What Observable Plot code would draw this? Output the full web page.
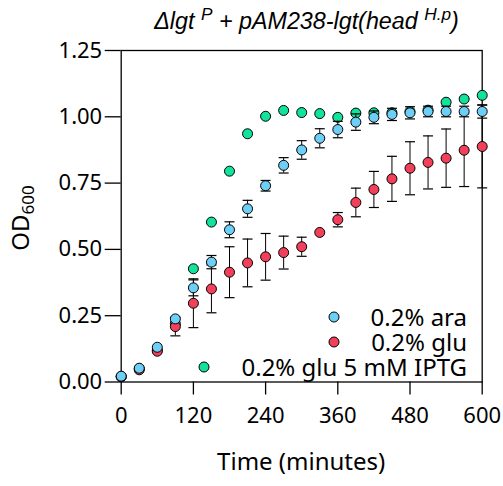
<!DOCTYPE html>
<html>
<head>
<meta charset="utf-8">
<script src="https://cdn.jsdelivr.net/npm/d3@7"></script>
<script src="https://cdn.jsdelivr.net/npm/@observablehq/plot@0.6"></script>
<style>
  body { margin: 0; background: #fff; }
  #wrap { position: relative; width: 503px; height: 486px; }
  #title { height: 40px; margin-left: 126px; width: 361px; text-align: center;
           font-family: "Liberation Sans", Arial, sans-serif; font-style: italic; font-size: 23.3px;
           line-height: 43px; white-space: nowrap; color: #000; }
  #title .sup { font-size: 0.74em; position: relative; top: -0.5em; }
  #legend { position: absolute; right: 36px; top: 304px; display: flex; flex-direction: column;
            align-items: flex-end; font-family: "Noto Sans", sans-serif; font-size: 24px; color: #000; }
  #legend .row { display: flex; align-items: center; height: 25px; white-space: nowrap; }
  #legend .row span { display: inline-block; line-height: 24px; height: 24px; }
  #legend svg { margin-right: 32px; overflow: visible; }
</style>
</head>
<body>
<div id="wrap">
  <div id="title">Δlgt <span class="sup">P</span> + pAM238-lgt(head <span class="sup">H.p</span>)</div>
  <div id="chart"></div>
  <div id="legend"></div>
</div>
<script>
// Time points (minutes)
const times = [0, 30, 60, 90, 120, 150, 180, 210, 240, 270, 300, 330, 360, 390, 420, 450, 480, 510, 540, 570, 600];

// OD600 means
const araValues  = [0.022, 0.052, 0.131, 0.238, 0.355, 0.452, 0.574, 0.653, 0.740, 0.817, 0.875, 0.919, 0.952, 0.980, 0.998, 1.009, 1.015, 1.020, 1.020, 1.020, 1.020];
const gluValues  = [0.020, 0.046, 0.116, 0.209, 0.297, 0.351, 0.414, 0.449, 0.472, 0.488, 0.510, 0.564, 0.612, 0.677, 0.726, 0.766, 0.806, 0.828, 0.844, 0.874, 0.888];
const iptgValues = [0.020, 0.050, 0.120, 0.220, 0.427, 0.603, 0.795, 0.936, 1.002, 1.024, 1.016, 1.012, 0.998, 1.014, 1.015, 1.015, 1.020, 1.025, 1.055, 1.067, 1.081];

// Error bars (± SD), null = none drawn
const araErr  = [null, null, null, null, 0.030, 0.025, 0.030, 0.032, 0.020, 0.029, 0.035, 0.036, 0.031, 0.031, 0.024, 0.023, 0.023, 0.020, 0.020, 0.020, 0.025];
const gluErr  = [null, null, null, 0.035, 0.092, 0.090, 0.096, 0.090, 0.088, 0.062, 0.036, null, 0.027, 0.054, 0.068, 0.085, 0.100, 0.100, 0.110, 0.137, 0.156];
const iptgErr = times.map(() => null);

// Series
const seriesNames  = ["0.2% ara", "0.2% glu", "0.2% glu 5 mM IPTG"];
const seriesColors = ["#6ECFF6", "#F2405B", "#12E39B"];

// Axis ticks
const xTicks = [0, 120, 240, 360, 480, 600];
const yTicks = [0, 0.25, 0.5, 0.75, 1.0, 1.25];

const build = (vals, errs, name) => times.map((t, i) => ({t, y: vals[i], e: errs[i], name}));
const ara  = build(araValues, araErr, seriesNames[0]);
const glu  = build(gluValues, gluErr, seriesNames[1]);
const iptg = build(iptgValues, iptgErr, seriesNames[2]);
const errRows = [...iptg, ...glu, ...ara].filter(d => d.e != null);

const cap = { draw(ctx, size) { const w = Math.sqrt(size / Math.PI); ctx.moveTo(-w, 0); ctx.lineTo(w, 0); } };

const color = Plot.scale({color: {domain: seriesNames, range: seriesColors}});

const dotOpts = {x: "t", y: "y", r: 5, fill: d => color.apply(d.name), stroke: "#000", strokeWidth: 1};

const chart = Plot.plot({
  width: 503,
  height: 446,
  marginLeft: 120.7,
  marginRight: 21.3,
  marginTop: 10,
  marginBottom: 104.5,
  style: {fontFamily: "Noto Sans, sans-serif", fontSize: "22px", color: "#000", background: "transparent", overflow: "visible"},
  x: {domain: [0, 600], label: null},
  y: {domain: [0, 1.25], label: null},
  marks: [
    Plot.frame({stroke: "#000", strokeWidth: 1.3}),
    Plot.axisX({ticks: xTicks, tickSize: 13, tickPadding: 12, fontSize: 22, strokeWidth: 1.3, label: null}),
    Plot.axisY({ticks: yTicks, tickSize: 16, tickPadding: 3, fontSize: 22, strokeWidth: 1.3, tickFormat: d3.format(".2f"), label: null}),
    Plot.dot(iptg, dotOpts),
    Plot.ruleX(errRows, {x: "t", y1: d => d.y - d.e, y2: d => d.y + d.e, stroke: "#000", strokeWidth: 1}),
    Plot.dot(errRows, {x: "t", y: d => d.y + d.e, symbol: cap, r: 5, fill: "none", stroke: "#000", strokeWidth: 1.2}),
    Plot.dot(errRows, {x: "t", y: d => d.y - d.e, symbol: cap, r: 5, fill: "none", stroke: "#000", strokeWidth: 1.2}),
    Plot.dot(glu, dotOpts),
    Plot.dot(ara, dotOpts)
  ]
});
document.getElementById("chart").appendChild(chart);

// Axis titles
const svg = d3.select(chart);
svg.append("text")
  .attr("x", 301.2).attr("y", 430)
  .attr("text-anchor", "middle")
  .attr("font-family", "Noto Sans, sans-serif").attr("font-size", 24).attr("fill", "#000")
  .text("Time (minutes)");
const yl = svg.append("text")
  .attr("transform", "translate(28.5,178) rotate(-90)")
  .attr("text-anchor", "middle")
  .attr("font-family", "Noto Sans, sans-serif").attr("font-size", 24).attr("fill", "#000");
yl.append("tspan").text("OD");
yl.append("tspan").attr("dy", 5).attr("font-size", 17).text("600");

// Legend
const legend = d3.select("#legend");
seriesNames.forEach((n, i) => {
  const row = legend.append("div").attr("class", "row");
  const s = row.append("svg").attr("width", 10).attr("height", 10);
  s.append("circle").attr("cx", 5).attr("cy", 5).attr("r", 5)
    .attr("fill", seriesColors[i]).attr("stroke", "#000").attr("stroke-width", 1);
  row.append("span").text(n);
});
</script>
</body>
</html>
